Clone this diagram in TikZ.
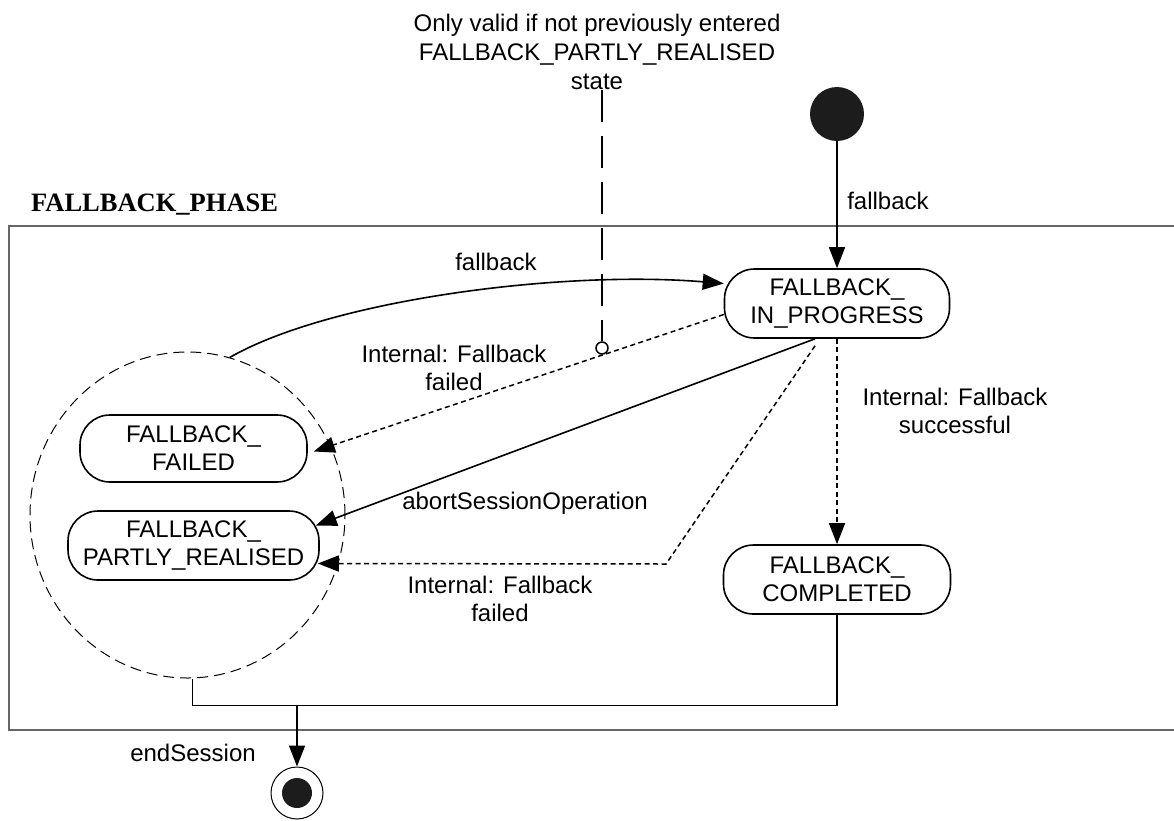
\documentclass[tikz,border=0pt]{standalone}
\usepackage{fontspec}
\setmainfont{Liberation Sans}
\newfontfamily\titlefont{Liberation Serif}
\usetikzlibrary{arrows.meta,shapes.geometric}
\definecolor{dark}{RGB}{28,28,28}
\begin{document}
\begin{tikzpicture}[x=1pt,y=-1pt,
  every node/.style={font=\fontsize{24}{28}\selectfont},
  state/.style={draw, rectangle, rounded corners=30pt, line width=1.6pt, align=center, inner sep=2pt},
  arr/.style={-{Triangle[length=21pt,width=16pt]}, line width=1.6pt},
  dsh/.style={dash pattern=on 5pt off 3.5pt, line width=1.5pt},
  lab/.style={align=center, inner sep=0pt}]
\useasboundingbox (0,0) rectangle (1174,820);
\draw[line width=1.5pt, draw=black!60] (9,226) rectangle (1185,730);
\node[anchor=base west, inner sep=0, font=\titlefont\bfseries\fontsize{26.5}{30}\selectfont] (title) at (31,211) {FALLBACK\_PHASE};

\node[ellipse, draw, dash pattern=on 11pt off 6pt, line width=1pt, minimum width=315pt, minimum height=326pt, inner sep=0] (grp) at (187.5,515) {};

\node[state, minimum width=225pt, minimum height=69pt] (prog) at (837,303.5) {FALLBACK\_\\IN\_PROGRESS};
\node[state, minimum width=227pt, minimum height=67pt] (fail) at (193.5,448.5) {FALLBACK\_\\FAILED};
\node[state, minimum width=251pt, minimum height=69pt] (part) at (193.5,545.5) {FALLBACK\_\\PARTLY\_REALISED};
\node[state, minimum width=227pt, minimum height=69pt] (comp) at (837,579.5) {FALLBACK\_\\COMPLETED};

\node[circle, fill=dark, minimum size=54pt, inner sep=0] (init) at (837,114) {};
\node[circle, draw, line width=1pt, minimum size=52pt, inner sep=0] (fin) at (297,793) {};
\node[circle, fill=dark, minimum size=30pt, inner sep=0] (finin) at (fin.center) {};

\node[circle, draw, line width=1.5pt, minimum size=12pt, inner sep=0] (pin) at (602,348) {};
\node[lab, font=\fontsize{24}{29}\selectfont] (note) at (597,52) {Only valid if not previously entered\\FALLBACK\_PARTLY\_REALISED\\state};
\draw[line width=1.5pt, dash pattern=on 32pt off 14pt] (note.south -| pin.north) -- (pin.north);

% connectors
\draw[arr] (init) -- (prog);
\draw[arr] (grp.75) .. controls (330,300) and (560,270) .. ([yshift=20pt]prog.west);
\draw[arr, dsh] ([yshift=-11pt]prog.west) -- ([xshift=6pt,yshift=-3pt]fail.east);
\draw[arr] ([xshift=-22pt]prog.south) -- ([xshift=-4pt,yshift=20pt]part.east);
\coordinate (bend) at (666,564);
\draw[arr, dsh] ([xshift=-22pt,yshift=-7pt]prog.south) -- (bend) -- ([xshift=-2pt,yshift=-18pt]part.east);
\draw[arr, dsh] (prog) -- (comp);
\draw[line width=1.6pt] ([xshift=5pt]grp.south) -- ++(0,27) coordinate (j1) -| (comp.south);
\draw[arr] (fin |- j1) -- (fin);

% labels
\node[lab] (l1) at (888,201) {fallback};
\node[lab] (l2) at (496,262) {fallback};
\node[lab] (l3) at (454,368) {Internal: Fallback\\failed};
\node[lab] (l4) at (955,411) {Internal: Fallback\\successful};
\node[lab] (l5) at (525,503) {abortSessionOperation};
\node[lab] (l6) at (500,599) {Internal: Fallback\\failed};
\node[lab] (l7) at (193,753) {endSession};
\end{tikzpicture}
\end{document}
